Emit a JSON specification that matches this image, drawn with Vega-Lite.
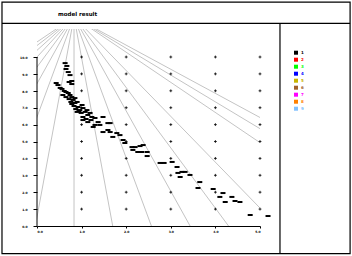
{
  "$schema": "https://vega.github.io/schema/vega-lite/v6.json",
  "width": 223,
  "height": 197,
  "autosize": {"type": "none"},
  "padding": {"left": 37, "top": 29, "right": 92, "bottom": 30},
  "background": "white",
  "config": {"view": {"stroke": null}, "font": "DejaVu Sans"},
  "title": {"text": "model result", "anchor": "start", "frame": "group", "dx": 21, "offset": -18.5, "baseline": "middle", "fontSize": 5.5, "fontWeight": "bold", "color": "#000000", "font": "DejaVu Sans"},
  "datasets": {
    "frame": [{"x": -0.785, "x2": 7.02, "y": -1.63, "y2": 13.25}],
    "seps": [
      {"x": -0.785, "x2": 7.02, "y": 11.99, "y2": 11.99},
      {"x": 5.448, "x2": 5.448, "y": 11.99, "y2": -1.63}
    ],
    "axisline": [{"x": 0, "y": 0, "y2": 10}],
    "rays": [
      {"x": 0.83, "y": 12.37, "x2": -11.88, "y2": -10.3},
      {"x": 0.83, "y": 12.37, "x2": -10.29, "y2": -10.3},
      {"x": 0.83, "y": 12.37, "x2": -8.70, "y2": -10.3},
      {"x": 0.83, "y": 12.37, "x2": -7.11, "y2": -10.3},
      {"x": 0.83, "y": 12.37, "x2": -5.52, "y2": -10.3},
      {"x": 0.83, "y": 12.37, "x2": -3.94, "y2": -10.3},
      {"x": 0.83, "y": 12.37, "x2": -2.35, "y2": -10.3},
      {"x": 0.83, "y": 12.37, "x2": -0.76, "y2": -10.3},
      {"x": 0.83, "y": 12.37, "x2": 0.83, "y2": -10.3},
      {"x": 0.83, "y": 12.37, "x2": 2.42, "y2": -10.3},
      {"x": 0.83, "y": 12.37, "x2": 4.01, "y2": -10.3},
      {"x": 0.83, "y": 12.37, "x2": 5.60, "y2": -10.3},
      {"x": 0.83, "y": 12.37, "x2": 7.18, "y2": -10.3},
      {"x": 0.83, "y": 12.37, "x2": 9.19, "y2": -10.3},
      {"x": 0.83, "y": 12.37, "x2": 13.54, "y2": -10.3},
      {"x": 0.83, "y": 12.37, "x2": 15.13, "y2": -10.3},
      {"x": 0.83, "y": 12.37, "x2": 16.72, "y2": -10.3}
    ],
    "grid": [
      {"x": 1, "y": 1}, {"x": 1, "y": 2}, {"x": 1, "y": 3}, {"x": 1, "y": 4}, {"x": 1, "y": 5}, {"x": 1, "y": 6}, {"x": 1, "y": 7}, {"x": 1, "y": 8}, {"x": 1, "y": 9}, {"x": 1, "y": 10},
      {"x": 2, "y": 1}, {"x": 2, "y": 2}, {"x": 2, "y": 3}, {"x": 2, "y": 4}, {"x": 2, "y": 5}, {"x": 2, "y": 6}, {"x": 2, "y": 7}, {"x": 2, "y": 8}, {"x": 2, "y": 9}, {"x": 2, "y": 10},
      {"x": 3, "y": 1}, {"x": 3, "y": 2}, {"x": 3, "y": 3}, {"x": 3, "y": 4}, {"x": 3, "y": 5}, {"x": 3, "y": 6}, {"x": 3, "y": 7}, {"x": 3, "y": 8}, {"x": 3, "y": 9}, {"x": 3, "y": 10},
      {"x": 4, "y": 1}, {"x": 4, "y": 2}, {"x": 4, "y": 3}, {"x": 4, "y": 4}, {"x": 4, "y": 5}, {"x": 4, "y": 6}, {"x": 4, "y": 7}, {"x": 4, "y": 8}, {"x": 4, "y": 9}, {"x": 4, "y": 10},
      {"x": 5, "y": 1}, {"x": 5, "y": 2}, {"x": 5, "y": 3}, {"x": 5, "y": 4}, {"x": 5, "y": 5}, {"x": 5, "y": 6}, {"x": 5, "y": 7}, {"x": 5, "y": 8}, {"x": 5, "y": 9}, {"x": 5, "y": 10}
    ],
    "points": [
      {"x": 0.63, "y": 9.64, "s": "1"}, {"x": 0.67, "y": 9.47, "s": "1"}, {"x": 0.65, "y": 9.29, "s": "1"}, {"x": 0.70, "y": 9.11, "s": "1"},
      {"x": 0.74, "y": 8.93, "s": "1"}, {"x": 0.72, "y": 8.52, "s": "1"}, {"x": 0.78, "y": 8.58, "s": "1"}, {"x": 0.43, "y": 8.46, "s": "1"},
      {"x": 0.47, "y": 8.34, "s": "1"}, {"x": 0.78, "y": 8.40, "s": "1"}, {"x": 0.52, "y": 8.17, "s": "1"}, {"x": 0.56, "y": 8.11, "s": "1"},
      {"x": 0.61, "y": 7.99, "s": "1"}, {"x": 0.65, "y": 7.93, "s": "1"}, {"x": 0.70, "y": 7.87, "s": "1"}, {"x": 0.74, "y": 7.75, "s": "1"},
      {"x": 0.58, "y": 7.75, "s": "1"}, {"x": 0.65, "y": 7.63, "s": "1"}, {"x": 0.78, "y": 7.63, "s": "1"}, {"x": 0.72, "y": 7.51, "s": "1"},
      {"x": 0.81, "y": 7.46, "s": "1"}, {"x": 0.76, "y": 7.34, "s": "1"}, {"x": 0.85, "y": 7.28, "s": "1"}, {"x": 0.90, "y": 7.34, "s": "1"},
      {"x": 0.78, "y": 7.22, "s": "1"}, {"x": 0.83, "y": 7.10, "s": "1"}, {"x": 0.92, "y": 7.04, "s": "1"}, {"x": 0.87, "y": 6.92, "s": "1"},
      {"x": 0.96, "y": 6.86, "s": "1"}, {"x": 1.03, "y": 6.98, "s": "1"}, {"x": 1.12, "y": 6.86, "s": "1"}, {"x": 0.90, "y": 6.75, "s": "1"},
      {"x": 0.99, "y": 6.69, "s": "1"}, {"x": 1.08, "y": 6.75, "s": "1"}, {"x": 1.19, "y": 6.69, "s": "1"}, {"x": 1.14, "y": 6.57, "s": "1"},
      {"x": 1.23, "y": 6.45, "s": "1"}, {"x": 1.03, "y": 6.45, "s": "1"}, {"x": 1.30, "y": 6.39, "s": "1"}, {"x": 1.10, "y": 6.33, "s": "1"},
      {"x": 1.03, "y": 6.27, "s": "1"}, {"x": 1.14, "y": 6.15, "s": "1"}, {"x": 1.37, "y": 6.15, "s": "1"}, {"x": 1.41, "y": 5.98, "s": "1"},
      {"x": 1.59, "y": 6.09, "s": "1"}, {"x": 1.30, "y": 5.98, "s": "1"}, {"x": 1.48, "y": 6.45, "s": "1"}, {"x": 1.64, "y": 6.09, "s": "1"},
      {"x": 1.26, "y": 5.86, "s": "1"}, {"x": 1.59, "y": 5.68, "s": "1"}, {"x": 1.48, "y": 5.56, "s": "1"}, {"x": 1.64, "y": 5.56, "s": "1"},
      {"x": 1.79, "y": 5.50, "s": "1"}, {"x": 1.86, "y": 5.38, "s": "1"}, {"x": 1.70, "y": 5.27, "s": "1"}, {"x": 1.93, "y": 5.09, "s": "1"},
      {"x": 1.97, "y": 4.91, "s": "1"}, {"x": 2.13, "y": 4.67, "s": "1"}, {"x": 2.38, "y": 4.79, "s": "1"}, {"x": 2.31, "y": 4.73, "s": "1"},
      {"x": 2.20, "y": 4.67, "s": "1"}, {"x": 2.15, "y": 4.50, "s": "1"}, {"x": 2.26, "y": 4.38, "s": "1"}, {"x": 2.35, "y": 4.38, "s": "1"},
      {"x": 2.47, "y": 4.38, "s": "1"}, {"x": 2.47, "y": 4.14, "s": "1"}, {"x": 2.76, "y": 3.73, "s": "1"}, {"x": 2.85, "y": 3.73, "s": "1"},
      {"x": 3.03, "y": 3.79, "s": "1"}, {"x": 3.14, "y": 3.49, "s": "1"}, {"x": 3.16, "y": 3.14, "s": "1"}, {"x": 3.25, "y": 3.20, "s": "1"},
      {"x": 3.32, "y": 3.20, "s": "1"}, {"x": 3.43, "y": 3.02, "s": "1"}, {"x": 3.21, "y": 2.90, "s": "1"}, {"x": 3.65, "y": 2.60, "s": "1"},
      {"x": 3.61, "y": 2.25, "s": "1"}, {"x": 3.95, "y": 2.19, "s": "1"}, {"x": 4.17, "y": 1.95, "s": "1"}, {"x": 4.10, "y": 1.72, "s": "1"},
      {"x": 4.37, "y": 1.72, "s": "1"}, {"x": 4.44, "y": 1.48, "s": "1"}, {"x": 4.22, "y": 1.42, "s": "1"}, {"x": 4.55, "y": 1.42, "s": "1"},
      {"x": 4.78, "y": 0.65, "s": "1"}, {"x": 5.18, "y": 0.59, "s": "1"}, {"x": 1.01, "y": 7.16, "s": "1"}, {"x": 0.85, "y": 7.57, "s": "1"},
      {"x": 0.94, "y": 6.80, "s": "1"}, {"x": 1.21, "y": 6.27, "s": "1"}
    ]
  },
  "encoding": {
    "x": {"field": "x", "type": "quantitative",
      "scale": {"domain": [0, 5], "nice": false, "zero": false},
      "axis": {"values": [0, 1, 2, 3, 4, 5], "format": ".1f", "title": null, "grid": false, "domainColor": "black", "domainWidth": 1, "tickColor": "black", "tickSize": 2, "labelFontSize": 3, "labelFontWeight": "bold", "labelColor": "black", "labelPadding": 2}},
    "y": {"field": "y", "type": "quantitative",
      "scale": {"domain": [0, 11.657], "nice": false, "zero": false},
      "axis": {"values": [0, 1, 2, 3, 4, 5, 6, 7, 8, 9, 10], "format": ".1f", "title": null, "grid": false, "domain": false, "tickColor": "black", "tickSize": 4, "labelFontSize": 3, "labelFontWeight": "bold", "labelColor": "black", "labelPadding": 6}}
  },
  "layer": [
    {
      "data": {"name": "frame"},
      "mark": {"type": "rect", "fill": null, "stroke": "black", "strokeWidth": 1.2, "clip": false},
      "encoding": {"x2": {"field": "x2"}, "y2": {"field": "y2"}}
    },
    {
      "data": {"name": "seps"},
      "mark": {"type": "rule", "color": "black", "strokeWidth": 1.2, "clip": false},
      "encoding": {"x2": {"field": "x2"}, "y2": {"field": "y2"}}
    },
    {
      "data": {"name": "rays"},
      "mark": {"type": "rule", "color": "#c4c4c4", "strokeWidth": 1, "clip": true},
      "encoding": {"x2": {"field": "x2"}, "y2": {"field": "y2"}}
    },
    {
      "data": {"name": "axisline"},
      "mark": {"type": "rule", "color": "black", "strokeWidth": 1, "clip": false},
      "encoding": {"y2": {"field": "y2"}}
    },
    {
      "data": {"name": "grid"},
      "mark": {"type": "point", "shape": "M-1,0H1M0,-1V1", "size": 8, "stroke": "black", "strokeWidth": 0.8, "filled": false, "opacity": 1, "clip": false},
      "encoding": {}
    },
    {
      "data": {"name": "points"},
      "mark": {"type": "point", "shape": "M-1,-0.4H1V0.4H-1Z", "size": 25, "filled": true, "opacity": 1, "clip": false},
      "encoding": {
        "color": {"field": "s", "type": "nominal",
          "scale": {"domain": ["1", "2", "3", "4", "5", "6", "7", "8", "9"], "range": ["#000000", "#ff0000", "#00ff00", "#0000ff", "#c8b400", "#a0602a", "#ff00ff", "#ff8000", "#80c0ff"]},
          "legend": {"orient": "none", "legendX": 257, "legendY": 21.7, "title": null, "symbolType": "square", "symbolSize": 16, "symbolStrokeWidth": 0, "labelFontSize": 4, "labelFontWeight": "bold", "labelOffset": 3, "rowPadding": 3, "padding": 0, "labelColor": {"expr": "scale('color', datum.value)"}}}
      }
    }
  ]
}
